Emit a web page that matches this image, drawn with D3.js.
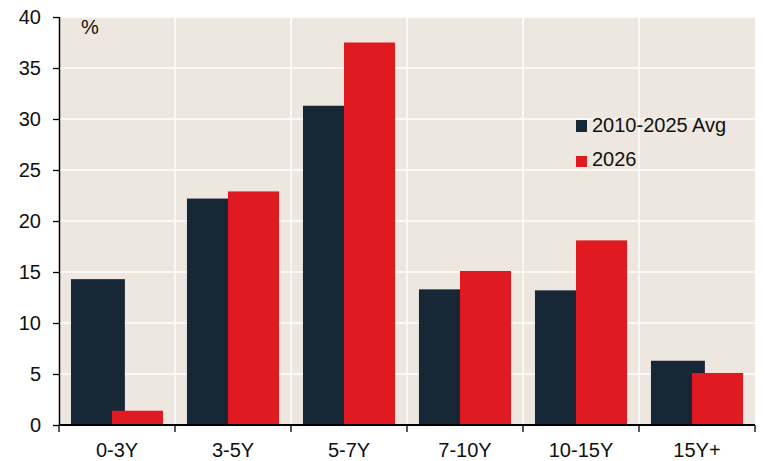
<!DOCTYPE html>
<html>
<head>
<meta charset="utf-8">
<script src="https://cdn.jsdelivr.net/npm/d3@7"></script>
<style>
  body { margin: 0; background: #fff; }
  svg { display: block; font-family: "Liberation Sans", Arial, sans-serif; }
</style>
</head>
<body>
<script>
// Data
const categories = ["0-3Y", "3-5Y", "5-7Y", "7-10Y", "10-15Y", "15Y+"];
const avgValues = [14.3, 22.2, 31.3, 13.3, 13.2, 6.3];
const values2026 = [1.4, 22.9, 37.5, 15.1, 18.1, 5.1];
const seriesNames = ["2010-2025 Avg", "2026"];
const yTicks = [0, 5, 10, 15, 20, 25, 30, 35, 40];

const width = 764;
const height = 461;
const margin = { top: 17, right: 9, bottom: 36, left: 59 };
const fontSize = "20px";

const colors = { avg: "#172736", y2026: "#df1a21", bg: "#eee7e0" };

const svg = d3.select("body")
  .append("svg")
  .attr("width", width)
  .attr("height", height);

const x = d3.scaleBand()
  .domain(categories)
  .range([margin.left, width - margin.right])
  .padding(0);

const y = d3.scaleLinear()
  .domain([0, 40])
  .range([height - margin.bottom, margin.top]);

// plot background
svg.append("rect")
  .attr("x", margin.left)
  .attr("y", margin.top)
  .attr("width", width - margin.right - margin.left)
  .attr("height", y(0) - margin.top)
  .attr("fill", colors.bg);

// horizontal gridlines
svg.append("g")
  .selectAll("line")
  .data(yTicks.slice(1))
  .join("line")
  .attr("x1", margin.left)
  .attr("x2", width - margin.right)
  .attr("y1", d => y(d))
  .attr("y2", d => y(d))
  .attr("stroke", "#fff")
  .attr("stroke-width", 1.5);

// vertical gridlines between categories
svg.append("g")
  .selectAll("line")
  .data(categories.slice(1))
  .join("line")
  .attr("x1", d => x(d))
  .attr("x2", d => x(d))
  .attr("y1", margin.top)
  .attr("y2", y(0))
  .attr("stroke", "#fff")
  .attr("stroke-width", 1.5);

// bars: Excel-style overlap, 2026 drawn on top
const bw = x.bandwidth();
const gap = bw * 0.103;
const avgW = bw * 0.465;
const newW = bw * 0.44;

svg.append("g")
  .selectAll("rect")
  .data(categories)
  .join("rect")
  .attr("x", d => x(d) + gap)
  .attr("y", (d, i) => y(avgValues[i]))
  .attr("width", avgW)
  .attr("height", (d, i) => y(0) - y(avgValues[i]))
  .attr("fill", colors.avg);

svg.append("g")
  .selectAll("rect")
  .data(categories)
  .join("rect")
  .attr("x", d => x(d) + bw - gap - newW)
  .attr("y", (d, i) => y(values2026[i]))
  .attr("width", newW)
  .attr("height", (d, i) => y(0) - y(values2026[i]))
  .attr("fill", colors.y2026);

// y axis
const yAxis = svg.append("g")
  .attr("transform", `translate(${margin.left},0)`)
  .call(d3.axisLeft(y).tickValues(yTicks).tickSize(6).tickPadding(12));
yAxis.select(".domain").attr("stroke", "#000").attr("stroke-width", 1.5)
  .attr("d", `M0.5,${y(40)}V${y(0)}`);
yAxis.selectAll(".tick line").attr("stroke", "#000").attr("stroke-width", 1.3);
yAxis.selectAll(".tick text")
  .attr("fill", "#111")
  .style("font-size", fontSize);

// x axis with ticks at category boundaries
const xAxisG = svg.append("g")
  .attr("transform", `translate(0,${y(0)})`);
xAxisG.append("line")
  .attr("x1", margin.left)
  .attr("x2", width - margin.right)
  .attr("stroke", "#000")
  .attr("stroke-width", 2);
xAxisG.selectAll(".xtick")
  .data(categories.concat([null]))
  .join("line")
  .attr("class", "xtick")
  .attr("x1", d => d === null ? width - margin.right : x(d))
  .attr("x2", d => d === null ? width - margin.right : x(d))
  .attr("y1", 0)
  .attr("y2", 7)
  .attr("stroke", "#000")
  .attr("stroke-width", 1.3);
xAxisG.selectAll(".xlabel")
  .data(categories)
  .join("text")
  .attr("class", "xlabel")
  .attr("x", d => x(d) + bw / 2)
  .attr("y", 31.5)
  .attr("text-anchor", "middle")
  .attr("fill", "#111")
  .style("font-size", fontSize)
  .text(d => d);

// unit label
svg.append("text")
  .attr("x", 81)
  .attr("y", 34)
  .attr("fill", "#111")
  .style("font-size", fontSize)
  .text("%");

// legend
const legend = svg.append("g")
  .attr("transform", "translate(576,120)");
legend.selectAll("rect")
  .data(seriesNames)
  .join("rect")
  .attr("x", 0)
  .attr("y", (d, i) => i * 36)
  .attr("width", 11)
  .attr("height", (d, i) => i === 0 ? 12 : 11)
  .attr("fill", (d, i) => i === 0 ? colors.avg : colors.y2026);
legend.selectAll("text")
  .data(seriesNames)
  .join("text")
  .attr("x", 16)
  .attr("y", (d, i) => i * 34 + 12)
  .attr("fill", "#111")
  .style("font-size", fontSize)
  .text(d => d);
</script>
</body>
</html>
